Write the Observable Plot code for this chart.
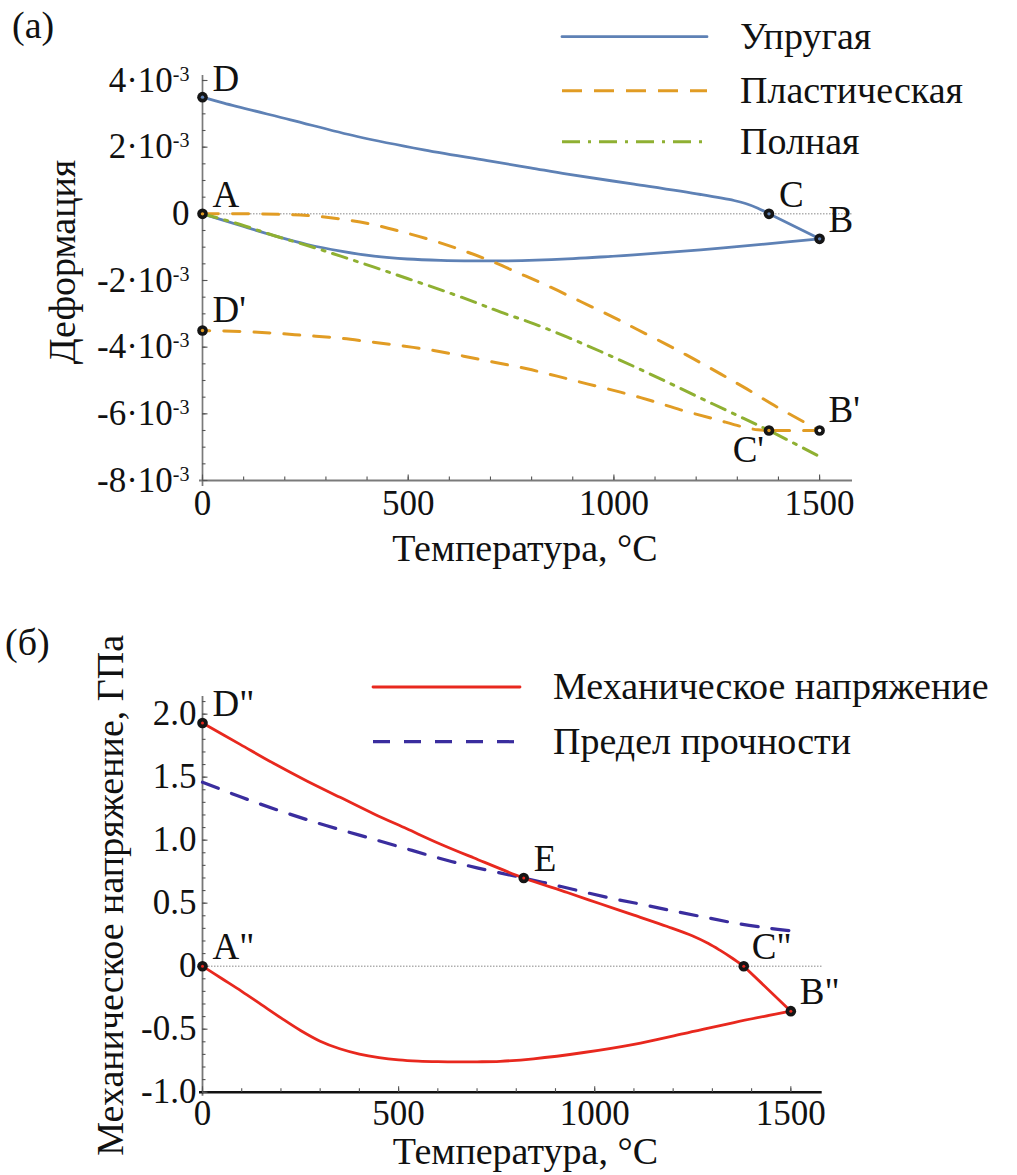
<!DOCTYPE html>
<html>
<head>
<meta charset="utf-8">
<script src="https://cdn.jsdelivr.net/npm/d3@7"></script>
<script src="https://cdn.jsdelivr.net/npm/@observablehq/plot@0.6"></script>
<style>
  body { margin: 0; background: #fff; font-family: 'Liberation Serif', 'Times New Roman', Tinos, 'DejaVu Serif', 'Noto Serif', FreeSerif, serif; }
  #wrap { position: relative; width: 1017px; height: 1175px; overflow: hidden; }
  #wrap svg { position: absolute; left: 0; }
  #wrap svg, #wrap svg text { font-family: 'Liberation Serif', 'Times New Roman', Tinos, 'DejaVu Serif', 'Noto Serif', FreeSerif, serif !important; }
</style>
</head>
<body>
<div id="wrap"></div>
<script>
// ================= DATA =================
// Panel (а): strain vs temperature (strain values in units of 10^-3)
const elasticUpperT = [0, 52, 214, 376, 538, 700, 797, 887, 1049, 1211, 1292, 1320, 1350, 1377];
const elasticUpperV = [3.5, 3.32, 2.82, 2.32, 1.92, 1.58, 1.38, 1.19, 0.89, 0.58, 0.40, 0.31, 0.17, 0];
const elasticLowerT = [1500, 1373, 1211, 1049, 887, 740, 660, 579, 498, 417, 336, 255, 173, 92, 0];
const elasticLowerV = [-0.75, -0.90, -1.08, -1.23, -1.35, -1.41, -1.41, -1.395, -1.355, -1.27, -1.12, -0.92, -0.65, -0.35, 0];

const totalT = [0, 92, 173, 255, 336, 417, 498, 579, 660, 725, 806, 887, 968, 1049, 1130, 1211, 1292, 1377, 1500];
const totalV = [0, -0.32, -0.65, -0.95, -1.27, -1.60, -1.94, -2.28, -2.64, -2.95, -3.30, -3.70, -4.13, -4.58, -5.05, -5.53, -6.00, -6.50, -7.28];

const plasticLoadT = [0, 116, 197, 255, 333, 406, 479, 560, 633, 700, 773, 846, 919, 992, 1057, 1130, 1195, 1259, 1324, 1397, 1460, 1500];
const plasticLoadV = [0, 0, -0.02, -0.05, -0.15, -0.30, -0.52, -0.80, -1.10, -1.41, -1.80, -2.20, -2.63, -3.06, -3.47, -3.93, -4.36, -4.80, -5.26, -5.80, -6.23, -6.50];
const plasticUnloadT = [1377, 1350, 1316, 1243, 1162, 1089, 1016, 935, 862, 789, 712, 635, 562, 485, 408, 327, 250, 173, 92, 0];
const plasticUnloadV = [-6.50, -6.48, -6.40, -6.15, -5.88, -5.60, -5.35, -5.10, -4.87, -4.65, -4.46, -4.27, -4.10, -3.96, -3.84, -3.72, -3.65, -3.58, -3.53, -3.50];

const pointsANames = ["D", "A", "D'", "C", "B", "B'", "C'"];
const pointsAT = [0, 0, 0, 1377, 1500, 1500, 1377];
const pointsAV = [3.5, 0, -3.5, 0, -0.75, -6.5, -6.5];

const legendALabels = ["Упругая", "Пластическая", "Полная"];
const xTicks = [0, 500, 1000, 1500];
const yTicksA = [-8, -6, -4, -2, 0, 2, 4]; // ×10^-3

// Panel (б): stress vs temperature (GPa)
const stressUpperT = [0, 96, 181, 266, 351, 436, 521, 606, 691, 819, 930, 1014, 1100, 1185, 1250, 1290, 1320, 1350, 1380];
const stressUpperV = [1.93, 1.76, 1.61, 1.47, 1.34, 1.21, 1.09, 0.97, 0.86, 0.70, 0.585, 0.495, 0.405, 0.315, 0.24, 0.18, 0.125, 0.065, 0];
const stressLowerT = [1500, 1355, 1227, 1100, 972, 844, 759, 700, 650, 600, 550, 500, 450, 400, 350, 300, 250, 200, 150, 100, 50, 0];
const stressLowerV = [-0.357, -0.447, -0.535, -0.62, -0.685, -0.735, -0.755, -0.759, -0.76, -0.758, -0.753, -0.743, -0.725, -0.697, -0.655, -0.595, -0.51, -0.41, -0.305, -0.20, -0.10, 0];

const strengthT = [0, 100, 200, 300, 400, 500, 600, 700, 819, 917, 1040, 1121, 1197, 1278, 1361, 1448, 1500];
const strengthV = [1.46, 1.34, 1.23, 1.13, 1.04, 0.95, 0.86, 0.78, 0.70, 0.63, 0.54, 0.49, 0.44, 0.39, 0.34, 0.30, 0.28];

const pointsBNames = ['D"', 'A"', "E", 'C"', 'B"'];
const pointsBT = [0, 0, 819, 1380, 1500];
const pointsBV = [1.93, 0, 0.70, 0, -0.357];

const legendBLabels = ["Механическое напряжение", "Предел прочности"];
const yTicksB = [-1, -0.5, 0, 0.5, 1, 1.5, 2];

const xTitle = "Температура, °C";
const yTitleA = "Деформация";
const yTitleB = "Механическое напряжение, ГПа";
const panelLabels = ["(а)", "(б)"];

// ================= STYLE =================
const FONT = "'Liberation Serif', 'Times New Roman', Tinos, 'DejaVu Serif', 'Noto Serif', FreeSerif, serif";
const COL = {blue: "#5E81B5", orange: "#E19C24", green: "#8FB032", red: "#E8281E", indigo: "#3A2D9E"};
const DASH_OR = "16,14", DASH_GR = "15,8,3,8", DASH_IN = "17,14";
const TICK_FS = 35, TITLE_FS = 38, LABEL_FS = 37;

const rows = (T, V, seg, k) => T.map((t, i) => ({t, v: V[i] * k, seg}));
const pts = (N, T, V, k) => N.map((n, i) => ({name: n, t: T[i], v: V[i] * k}));

// ---- Panel (а) tables
const E3 = 1e-3;
const pA = pts(pointsANames, pointsAT, pointsAV, E3);
const elasticRows = [
  ...rows(elasticUpperT, elasticUpperV, "DC", E3),
  {t: pA[3].t, v: pA[3].v, seg: "CB"}, {t: pA[4].t, v: pA[4].v, seg: "CB"},
  ...rows(elasticLowerT, elasticLowerV, "BA", E3)
];
const plasticRows = [
  ...rows(plasticLoadT, plasticLoadV, "AB", E3),
  {t: pA[5].t, v: pA[5].v, seg: "BC"}, {t: pA[6].t, v: pA[6].v, seg: "BC"},
  ...rows(plasticUnloadT, plasticUnloadV, "CD", E3)
];
const totalRows = rows(totalT, totalV, "A", E3);
const centersA = {"D": COL.blue, "A": COL.orange, "D'": COL.orange, "C": COL.blue, "B": COL.blue, "B'": "#ffffff", "C'": COL.orange};
const labelOffA = {"D": [10, -18.5, "start"], "A": [10, -18.4, "start"], "D'": [10, -20, "start"],
  "C": [10, -18.4, "start"], "B": [9, -18.4, "start"], "B'": [9, -20, "start"], "C'": [-5, 20, "end"]};

const fmtA = d => { const k = Math.round(d / E3); return k === 0 ? "0" : `${k}·10^-3`; };

function axisMarks(xMinor, xMajor, yMinor, yMajor, yFmt, yPad, xPad) {
  return [
    Plot.axisX(xMinor, {tickSize: 3.5, dy: -3.5, fill: "none", stroke: "#555", strokeWidth: 1.1}),
    Plot.axisX(xMajor, {tickSize: 5.5, dy: -5.5, fill: "none", stroke: "#555", strokeWidth: 1.1}),
    Plot.axisX(xMajor, {tickSize: 0, tickPadding: xPad, tickFormat: d => String(d), fontSize: TICK_FS, fill: "#111", label: null}),
    Plot.axisY(yMinor, {tickSize: 3.5, dx: 3.5, fill: "none", stroke: "#555", strokeWidth: 1.1}),
    Plot.axisY(yMajor, {tickSize: 5.5, dx: 5.5, fill: "none", stroke: "#555", strokeWidth: 1.1}),
    Plot.axisY(yMajor, {tickSize: 0, tickPadding: yPad, tickFormat: yFmt, fontSize: TICK_FS, fill: "#111", label: null})
  ];
}

const panelA = Plot.plot({
  width: 1017, height: 580,
  marginLeft: 202, marginRight: 165, marginTop: 75, marginBottom: 100,
  x: {domain: [0, 1580], label: null},
  y: {domain: [-8e-3, 4.15e-3], label: null},
  style: {fontFamily: FONT, fontSize: "36px", background: "transparent", overflow: "visible", color: "#111"},
  marks: [
    Plot.ruleY([0], {stroke: "#888", strokeWidth: 1, strokeDasharray: "1.5,1.5"}),
    Plot.ruleX([0], {stroke: "#7a7a7a", strokeWidth: 1.7, insetBottom: -6}),
    Plot.ruleY([-8e-3], {stroke: "#7a7a7a", strokeWidth: 2, insetLeft: -3}),
    ...axisMarks(d3.range(0, 1600, 100), xTicks, d3.range(-16, 9).map(i => i * 0.5 * E3), yTicksA.map(d => d * E3), fmtA, 13, 10),
    Plot.line(elasticRows, {x: "t", y: "v", z: "seg", stroke: COL.blue, strokeWidth: 2.8, curve: "catmull-rom", strokeLinecap: "round"}),
    Plot.line(plasticRows, {x: "t", y: "v", z: "seg", stroke: COL.orange, strokeWidth: 3, curve: "catmull-rom", strokeDasharray: DASH_OR}),
    Plot.line(totalRows, {x: "t", y: "v", stroke: COL.green, strokeWidth: 3, curve: "catmull-rom", strokeDasharray: DASH_GR}),
    Plot.dot(pA, {x: "t", y: "v", r: 5.3, fill: "#151515"}),
    Plot.dot(pA, {x: "t", y: "v", r: 1.7, fill: d => centersA[d.name]}),
    ...pA.map(p => Plot.text([p], {x: "t", y: "v", text: "name", dx: labelOffA[p.name][0], dy: labelOffA[p.name][1],
      textAnchor: labelOffA[p.name][2], lineAnchor: "middle", fontSize: LABEL_FS, fill: "#111"})),
    Plot.text([xTitle], {text: d => d, frameAnchor: "bottom", textAnchor: "middle", dx: -2.5, dy: 68, lineAnchor: "middle", fontSize: TITLE_FS, fill: "#111"}),
    Plot.text([yTitleA], {text: d => d, frameAnchor: "left", textAnchor: "middle", rotate: -90, dx: -140, dy: -16, lineAnchor: "middle", fontSize: TITLE_FS, fill: "#111"})
  ]
});

// ---- Panel (б) tables
const pB = pts(pointsBNames, pointsBT, pointsBV, 1);
const stressRows = [
  ...rows(stressUpperT, stressUpperV, "DC", 1),
  {t: pB[3].t, v: pB[3].v, seg: "CB"}, {t: pB[4].t, v: pB[4].v, seg: "CB"},
  ...rows(stressLowerT, stressLowerV, "BA", 1)
];
const strengthRows = rows(strengthT, strengthV, "S", 1);
const labelOffB = {'D"': [10, -18.8], 'A"': [10, -19.5], "E": [10, -18.8], 'C"': [8, -19.5], 'B"': [9, -19.5]};
const fmtB = d => d === 0 ? "0" : d.toFixed(1);

const panelB = Plot.plot({
  width: 1017, height: 595,
  marginLeft: 202, marginRight: 195.3, marginTop: 116, marginBottom: 83.3,
  x: {domain: [0, 1580], label: null},
  y: {domain: [-1, 2.14], label: null},
  style: {fontFamily: FONT, fontSize: "36px", background: "transparent", overflow: "visible", color: "#111"},
  marks: [
    Plot.ruleY([0], {stroke: "#888", strokeWidth: 1, strokeDasharray: "1.5,1.5"}),
    Plot.ruleX([0], {stroke: "#777", strokeWidth: 1.8, insetBottom: -4}),
    Plot.ruleY([-1], {stroke: "#111", strokeWidth: 2.6, insetLeft: -3}),
    ...axisMarks(d3.range(0, 1600, 100), xTicks, d3.range(-10, 22).map(i => i / 10), yTicksB, fmtB, 6, 8),
    Plot.line(strengthRows, {x: "t", y: "v", stroke: COL.indigo, strokeWidth: 3.2, curve: "catmull-rom", strokeDasharray: DASH_IN}),
    Plot.line(stressRows, {x: "t", y: "v", z: "seg", stroke: COL.red, strokeWidth: 2.8, curve: "catmull-rom", strokeLinecap: "round"}),
    Plot.dot(pB, {x: "t", y: "v", r: 5.3, fill: "#151515"}),
    Plot.dot(pB, {x: "t", y: "v", r: 1.5, fill: COL.red}),
    ...pB.map(p => Plot.text([p], {x: "t", y: "v", text: "name", dx: labelOffB[p.name][0], dy: labelOffB[p.name][1],
      textAnchor: "start", lineAnchor: "middle", fontSize: LABEL_FS, fill: "#111"})),
    Plot.text([xTitle], {text: d => d, frameAnchor: "bottom", textAnchor: "middle", dx: 13, dy: 60, lineAnchor: "middle", fontSize: TITLE_FS, fill: "#111"}),
    Plot.text([yTitleB], {text: d => d, frameAnchor: "left", textAnchor: "middle", rotate: -90, dx: -92, dy: 1, lineAnchor: "middle", fontSize: TITLE_FS, fill: "#111"})
  ]
});

// superscripts in tick labels ("a^b")
function superscripts(svg) {
  svg.querySelectorAll("text").forEach(t => {
    const s = t.textContent;
    if (!s.includes("^")) return;
    const [base, exp] = s.split("^");
    t.textContent = "";
    const ns = "http://www.w3.org/2000/svg";
    const b = document.createElementNS(ns, "tspan"); b.textContent = base; t.appendChild(b);
    const e = document.createElementNS(ns, "tspan"); e.textContent = exp;
    e.setAttribute("dy", "-0.55em"); e.setAttribute("font-size", "20px"); t.appendChild(e);
  });
}
superscripts(panelA);

const wrap = document.getElementById("wrap");
panelA.style.top = "0px";
panelB.style.top = "580px";
wrap.appendChild(panelA);
wrap.appendChild(panelB);

// ---- Overlay: legends + panel labels
const ov = d3.create("svg").attr("width", 1017).attr("height", 1175)
  .style("top", "0px").style("font-family", FONT).style("pointer-events", "none");
function legend(labels, styles, x1, x2, tx, ys) {
  labels.forEach((lab, i) => {
    ov.append("line").attr("x1", x1).attr("x2", x2).attr("y1", ys[i]).attr("y2", ys[i])
      .attr("stroke", styles[i].color).attr("stroke-width", styles[i].w)
      .attr("stroke-dasharray", styles[i].dash || null).attr("stroke-linecap", styles[i].dash ? "butt" : "round");
    ov.append("text").attr("x", tx).attr("y", ys[i] + 12).attr("font-size", 38).attr("fill", "#111").text(lab);
  });
}
legend(legendALabels,
  [{color: COL.blue, w: 2.8}, {color: COL.orange, w: 3, dash: "20,12"}, {color: COL.green, w: 3, dash: "18,8,3,8"}],
  562, 707, 740, [36.7, 90.7, 141.7]);
legend(legendBLabels,
  [{color: COL.red, w: 2.8}, {color: COL.indigo, w: 3.2, dash: DASH_IN}],
  373, 520, 553, [687, 741.7]);
ov.append("text").attr("x", 12).attr("y", 38).attr("font-size", 38).attr("fill", "#111").text(panelLabels[0]);
ov.append("text").attr("x", 5).attr("y", 655).attr("font-size", 38).attr("fill", "#111").text(panelLabels[1]);
wrap.appendChild(ov.node());
</script>
</body>
</html>
